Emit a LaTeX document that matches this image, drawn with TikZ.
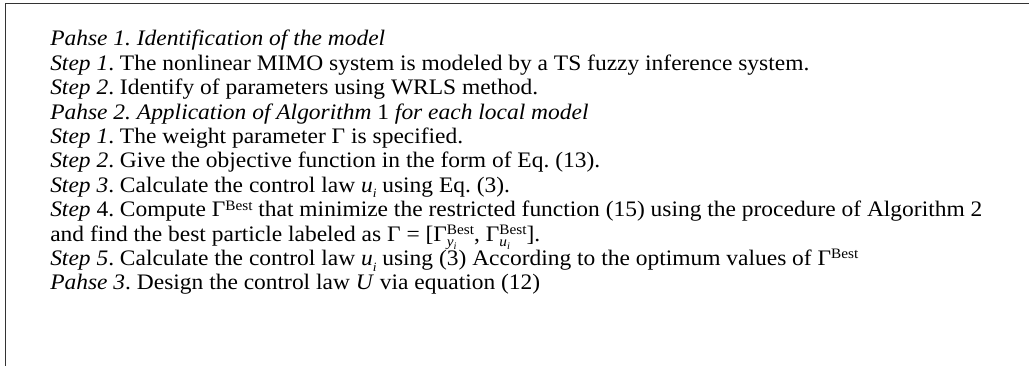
\documentclass[tikz,border=0pt]{standalone}
\usepackage{fontspec}
\setmainfont{Liberation Serif}[FakeStretch=1.06]
\frenchspacing
% Best-superscript stacked over a (narrower) subscript
\newcommand\bestsub[1]{\begingroup\fontsize{10.8}{12}\selectfont
  \rlap{\raisebox{-0.36em}{#1}}\raisebox{0.46em}{Best}\endgroup}
\newcommand\bestsup{\begingroup\fontsize{10.8}{12}\selectfont\raisebox{0.46em}{Best}\endgroup}
\newcommand\subi[1]{\textit{#1}\raisebox{-0.25em}{\fontsize{9.5}{10}\selectfont\textit{i}}}
\newcommand\ssubi[1]{\textit{#1}\raisebox{-0.2em}{\fontsize{7.5}{8}\selectfont\textit{i}}}
\begin{document}
\begin{tikzpicture}[x=0.75pt,y=-0.75pt,
  txt/.style={anchor=base west,inner sep=0pt,font=\fontsize{16.6}{19}\selectfont},
  frame/.style={line width=1.1pt,draw=black!80}]
\useasboundingbox (0,0) rectangle (1029,366);
\coordinate (tl) at (5.5,3.5);
\coordinate (tr) at (1029,3.5);
\coordinate (bl) at (5.5,366);
\draw[frame] (tr) -- (tl) -- (bl);
\node[txt] (l1)  at (50,46)    {\textit{Pahse 1. Identification of the model}};
\node[txt] (l2)  at (50,70.4)  {\textit{Step 1}. The nonlinear MIMO system is modeled by a TS fuzzy inference system.};
\node[txt] (l3)  at (50,94.8)  {\textit{Step 2}. Identify of parameters using WRLS method.};
\node[txt] (l4)  at (50,119.2) {\textit{Pahse 2. Application of Algorithm} 1 \textit{for each local model}};
\node[txt] (l5)  at (50,143.6) {\textit{Step 1}. The weight parameter Γ is specified.};
\node[txt] (l6)  at (50,168)   {\textit{Step 2}. Give the objective function in the form of Eq. (13).};
\node[txt] (l7)  at (50,192.4) {\textit{Step 3}. Calculate the control law \subi{u} using Eq. (3).};
\node[txt] (l8)  at (50,216.8) {\textit{Step} 4. Compute Γ\bestsup{} that minimize the restricted function (15) using the procedure of Algorithm 2};
\node[txt] (l9)  at (50,241.2) {and find the best particle labeled as Γ = [Γ\bestsub{\ssubi{y}}, Γ\bestsub{\ssubi{u}}].};
\node[txt] (l10) at (50,265.6) {\textit{Step 5}. Calculate the control law \subi{u} using (3) According to the optimum values of Γ\bestsup};
\node[txt] (l11) at (50,290)   {\textit{Pahse 3}. Design the control law \textit{U} via equation (12)};
\end{tikzpicture}
\end{document}
